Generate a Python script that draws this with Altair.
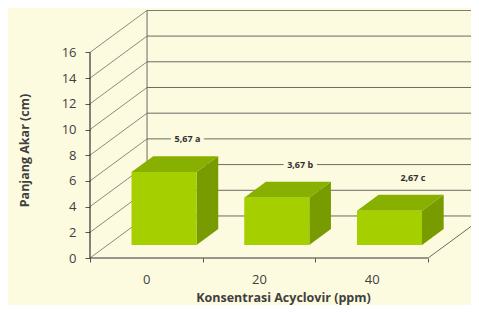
import json
import altair as alt
import pandas as pd

categories = ["0", "20", "40"]
values = [5.67, 3.67, 2.67]
letters = ["a", "b", "c"]
y_ticks = [0, 2, 4, 6, 8, 10, 12, 14, 16]

# 3D geometry (data units)
DX = 0.506    # floor depth along x (category units)
DY = 3.27     # floor depth along y (value units)
XMAX = 3.38
YMAX = 19.3
F = 0.31      # depth position of bar front face
BD = 0.38     # bar depth fraction
W = 0.577     # bar width
LAB_UP = 1.32 # label gap above bar top (value units)
n = len(categories)
VMAX = max(y_ticks)

front_rows, top_rows, side_rows, label_rows = [], [], [], []
for i, (c, v, l) in enumerate(zip(categories, values, letters)):
    x0 = i + 0.5 - W / 2 + F * DX
    base = F * DY
    top = base + v
    bdx, bdy = BD * DX, BD * DY
    front_rows.append(dict(bar=c, x=x0, x2=x0 + W, y=base, y2=top))
    for xx, lo, hi in [(x0, top, top), (x0 + bdx, top, top + bdy),
                       (x0 + W, top, top + bdy), (x0 + W + bdx, top + bdy, top + bdy)]:
        top_rows.append(dict(bar=c, x=xx, y=lo, y2=hi))
    for xx, lo, hi in [(x0 + W, base, top), (x0 + W + bdx, base + bdy, top + bdy)]:
        side_rows.append(dict(bar=c, x=xx, y=lo, y2=hi))
    label_rows.append(dict(x=i + 0.5 + 0.72 * DX, y=top + bdy + LAB_UP,
                           text=f"{v:.2f}".replace(".", ",") + " " + l))

diag = pd.DataFrame([dict(x=0, y=t, x2=DX, y2=t + DY) for t in y_ticks])
back = pd.DataFrame([dict(x=DX, y=t + DY, x2=XMAX, y2=t + DY) for t in y_ticks])
edges = pd.DataFrame([
    dict(x=DX, y=DY, x2=DX, y2=VMAX + DY),
    dict(x=n, y=0, x2=n + DX, y2=DY),
])
front_axes = pd.DataFrame([
    dict(x=0, y=0, x2=n, y2=0),
    dict(x=0, y=0, x2=0, y2=VMAX),
])

FONT = "Open Sans"
TXT = "#404040"
BG = "#fdfbdf"

xscale = alt.Scale(domain=[0, XMAX], nice=False, zero=False)
yscale = alt.Scale(domain=[0, YMAX], nice=False, zero=False)

label_expr = "datum.value < %d ? %s[datum.value] : ''" % (n, json.dumps(categories))

xaxis = alt.Axis(values=list(range(n + 1)), labelExpr=label_expr, labelOffset=56.3,
                 labelFlush=False, labelOverlap=False, tickSize=4, tickColor="#555",
                 domain=False, grid=False, labelPadding=11, labelFontSize=13,
                 labelColor=TXT, labelFont=FONT,
                 title="Konsentrasi Acyclovir (ppm)", titleX=193, titleY=39,
                 titleAlign="center", titleBaseline="middle", titleFont=FONT,
                 titleFontSize=12.5, titleFontWeight="bold", titleColor=TXT)
yaxis = alt.Axis(values=y_ticks, tickSize=5, tickColor="#555", domain=False, grid=False,
                 labelPadding=9, labelFontSize=13, labelColor=TXT, labelFont=FONT,
                 title="Panjang Akar (cm)", titleX=-66, titleY=140, titleAngle=-90,
                 titleAlign="center", titleBaseline="middle", titleFont=FONT,
                 titleFontSize=12.5, titleFontWeight="bold", titleColor=TXT)


def X(f="x"):
    return alt.X(f"{f}:Q", scale=xscale, axis=xaxis)


def Y(f="y"):
    return alt.Y(f"{f}:Q", scale=yscale, axis=yaxis)


diag_l = alt.Chart(diag).mark_rule(color="#8a8a80", strokeWidth=1).encode(
    x=X(), y=Y(), x2="x2:Q", y2="y2:Q")
back_l = alt.Chart(back).mark_rule(color="#6a6a62", strokeWidth=1, clip=True).encode(
    x=X(), y=Y(), x2="x2:Q", y2="y2:Q")
edge_l = alt.Chart(edges).mark_rule(color="#6a6a62", strokeWidth=1, clip=True).encode(
    x=X(), y=Y(), x2="x2:Q", y2="y2:Q")
axes_l = alt.Chart(front_axes).mark_rule(color="#333333", strokeWidth=1.2).encode(
    x=X(), y=Y(), x2="x2:Q", y2="y2:Q")

side_l = alt.Chart(pd.DataFrame(side_rows)).mark_area(color="#789c00").encode(
    x=X(), y=Y(), y2="y2:Q", detail="bar:N")
top_l = alt.Chart(pd.DataFrame(top_rows)).mark_area(color="#88b000").encode(
    x=X(), y=Y(), y2="y2:Q", detail="bar:N")
front_l = alt.Chart(pd.DataFrame(front_rows)).mark_rect(color="#a6cf00").encode(
    x=X(), x2="x2:Q", y=Y(), y2="y2:Q")

labels = pd.DataFrame(label_rows)
mask_l = alt.Chart(labels).mark_text(font=FONT, fontSize=9, fontWeight="bold",
                                     stroke=BG, strokeWidth=8, color=BG).encode(
    x=X(), y=Y(), text="text:N")
text_l = alt.Chart(labels).mark_text(font=FONT, fontSize=9, fontWeight="bold",
                                     color="#303030").encode(
    x=X(), y=Y(), text="text:N")

chart = alt.layer(diag_l, back_l, edge_l, axes_l, side_l, top_l, front_l, mask_l, text_l).properties(
    width=381, height=248,
    autosize=alt.AutoSizeParams(type="none"),
    padding={"left": 82, "top": 2, "right": 0, "bottom": 47},
    background=BG,
).configure_view(stroke=None, fill=BG)

chart.save("out.html", embed_options={"renderer": "svg", "actions": False})
